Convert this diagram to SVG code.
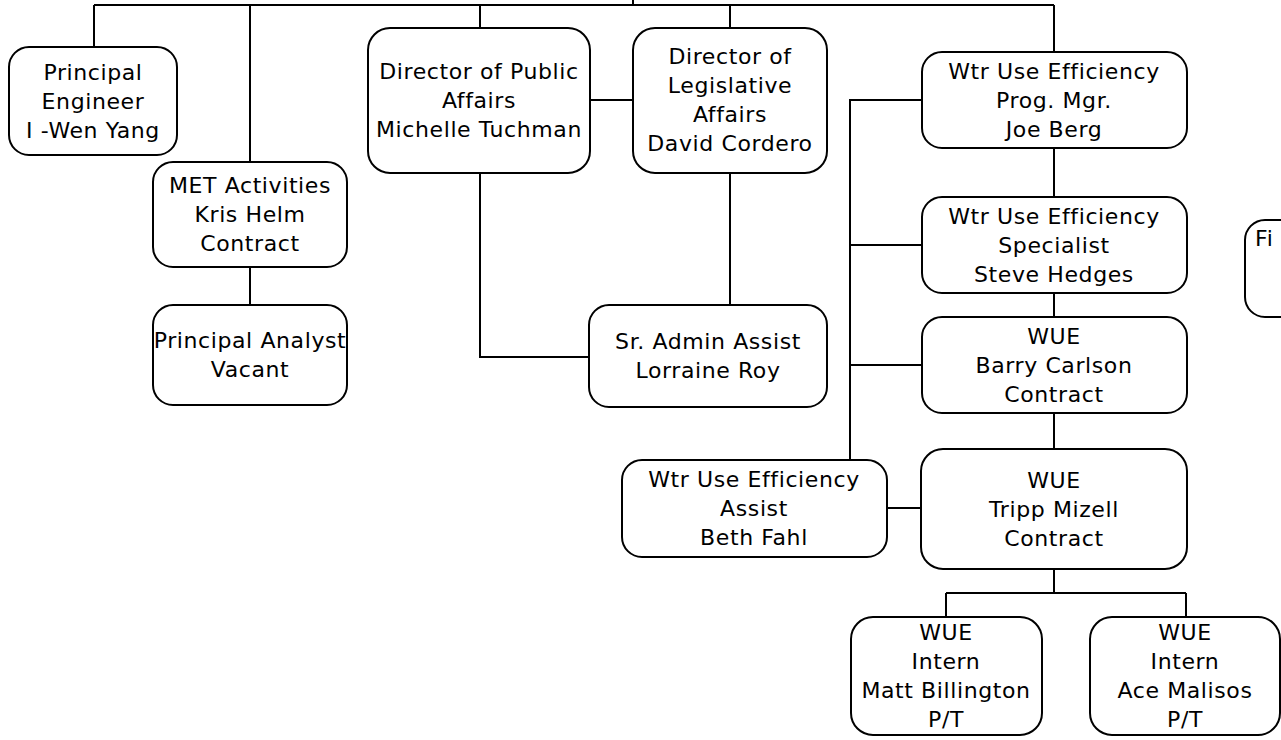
<svg xmlns="http://www.w3.org/2000/svg" width="1281" height="740" viewBox="0 0 1281 740">
<style>
.box{fill:#fff;stroke:#000;stroke-width:2}
.t{font-family:"DejaVu Sans",Verdana,sans-serif;font-size:22px;letter-spacing:0.6px;fill:#000;text-anchor:middle}
.c{fill:none;stroke:#000;stroke-width:2}
</style>
<rect width="1281" height="740" fill="#fff"/>
<g id="connectors" class="c">
<path d="M94,5H1054M633,0V5M94,5V47M250,5V162M480,5V28M730,5V28M1054,5V52"/>
<path d="M590,100H633M250,267V305M480,173V357H589M730,173V305"/>
<path d="M922,100H850V460M850,245H922M850,365H922M1054,148V197M1054,293V317M1054,413V449M887,508H921M1054,569V593M946,593H1186M946,593V617M1186,593V617"/>
</g>
<g id="principal-engineer"><rect class="box" x="9" y="47" width="168" height="108" rx="20"/><text class="t" x="93" y="80">Principal</text><text class="t" x="93" y="109">Engineer</text><text class="t" x="93" y="138">I -Wen Yang</text></g>
<g id="met-activities"><rect class="box" x="153" y="162" width="194" height="105" rx="20"/><text class="t" x="250" y="193">MET Activities</text><text class="t" x="250" y="222">Kris Helm</text><text class="t" x="250" y="251">Contract</text></g>
<g id="principal-analyst"><rect class="box" x="153" y="305" width="194" height="100" rx="20"/><text class="t" x="250" y="348">Principal Analyst</text><text class="t" x="250" y="377">Vacant</text></g>
<g id="dir-public"><rect class="box" x="368" y="28" width="222" height="145" rx="22"/><text class="t" x="479" y="79">Director of Public</text><text class="t" x="479" y="108">Affairs</text><text class="t" x="479" y="137">Michelle Tuchman</text></g>
<g id="dir-legislative"><rect class="box" x="633" y="28" width="194" height="145" rx="22"/><text class="t" x="730" y="64">Director of</text><text class="t" x="730" y="93">Legislative</text><text class="t" x="730" y="122">Affairs</text><text class="t" x="730" y="151">David Cordero</text></g>
<g id="sr-admin"><rect class="box" x="589" y="305" width="238" height="102" rx="20"/><text class="t" x="708" y="349">Sr. Admin Assist</text><text class="t" x="708" y="378">Lorraine Roy</text></g>
<g id="wue-mgr"><rect class="box" x="922" y="52" width="265" height="96" rx="20"/><text class="t" x="1054" y="79">Wtr Use Efficiency</text><text class="t" x="1054" y="108">Prog. Mgr.</text><text class="t" x="1054" y="137">Joe Berg</text></g>
<g id="wue-specialist"><rect class="box" x="922" y="197" width="265" height="96" rx="20"/><text class="t" x="1054" y="224">Wtr Use Efficiency</text><text class="t" x="1054" y="253">Specialist</text><text class="t" x="1054" y="282">Steve Hedges</text></g>
<g id="wue-carlson"><rect class="box" x="922" y="317" width="265" height="96" rx="20"/><text class="t" x="1054" y="344">WUE</text><text class="t" x="1054" y="373">Barry Carlson</text><text class="t" x="1054" y="402">Contract</text></g>
<g id="wue-mizell"><rect class="box" x="921" y="449" width="266" height="120" rx="22"/><text class="t" x="1054" y="488">WUE</text><text class="t" x="1054" y="517">Tripp Mizell</text><text class="t" x="1054" y="546">Contract</text></g>
<g id="wue-assist"><rect class="box" x="622" y="460" width="265" height="97" rx="20"/><text class="t" x="754" y="487">Wtr Use Efficiency</text><text class="t" x="754" y="516">Assist</text><text class="t" x="754" y="545">Beth Fahl</text></g>
<g id="intern-billington"><rect class="box" x="851" y="617" width="191" height="118" rx="22"/><text class="t" x="946" y="640">WUE</text><text class="t" x="946" y="669">Intern</text><text class="t" x="946" y="698">Matt Billington</text><text class="t" x="946" y="727">P/T</text></g>
<g id="intern-malisos"><rect class="box" x="1090" y="617" width="190" height="118" rx="22"/><text class="t" x="1185" y="640">WUE</text><text class="t" x="1185" y="669">Intern</text><text class="t" x="1185" y="698">Ace Malisos</text><text class="t" x="1185" y="727">P/T</text></g>
<g id="fi-box"><rect class="box" x="1245" y="220" width="200" height="97" rx="20"/><text class="t" x="1255" y="246" style="text-anchor:start">Fi</text></g>
</svg>
